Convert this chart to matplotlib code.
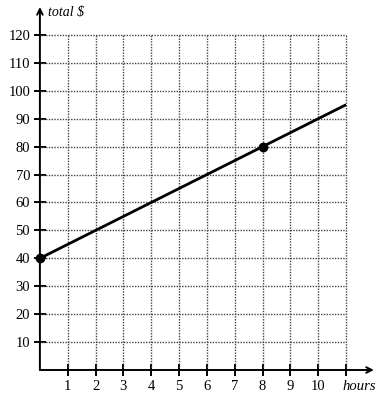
import matplotlib.pyplot as plt
import numpy as np

# data
hours = [0, 11]
total = [40, 95]
pts_x = [0, 8]
pts_y = [40, 80]
xticks = list(range(1, 11))
xgrid = list(range(1, 12))
yticks = list(range(10, 130, 10))

plt.rcParams['font.family'] = ['Liberation Serif', 'DejaVu Serif']

fig = plt.figure(figsize=(3.8, 4.0), dpi=100)
ax = fig.add_axes([0.105, 0.075, 0.879, 0.9075])
ax.set_xlim(0, 12)
ax.set_ylim(0, 130)

# dotted grid, stops at x=11 / y=120
ax.vlines(xgrid, 0, 120, colors='#444444', linestyles=(0, (1, 1)), linewidth=1.0)
ax.hlines(yticks, 0, 11, colors='#444444', linestyles=(0, (1, 1)), linewidth=1.0)

ax.plot(hours, total, color='black', linewidth=2, solid_capstyle='butt')
ax.plot(pts_x, pts_y, 'o', color='black', markersize=6, clip_on=False)

for s in ax.spines.values():
    s.set_visible(False)

# axes with arrows
ax.annotate('', xy=(12, 0), xytext=(0, 0),
            arrowprops=dict(arrowstyle='->', color='black', lw=1.4, shrinkA=0, shrinkB=0),
            annotation_clip=False)
ax.annotate('', xy=(0, 130), xytext=(0, 0),
            arrowprops=dict(arrowstyle='->', color='black', lw=1.4, shrinkA=0, shrinkB=0),
            annotation_clip=False)

ax.set_xticks(xticks + [11])
ax.set_xticklabels([str(t) for t in xticks] + [''])
ax.set_yticks(yticks)
ax.set_yticklabels([str(t) for t in yticks])
ax.tick_params(direction='inout', length=8, width=1.4, labelsize=10.5, pad=3)

ax.text(10.88, -6.0, 'hours', style='italic', fontsize=10.5, ha='left', va='center')
ax.text(0.3, 128, 'total $', style='italic', fontsize=10, ha='left', va='center')

fig.savefig('out.png', dpi=100)
